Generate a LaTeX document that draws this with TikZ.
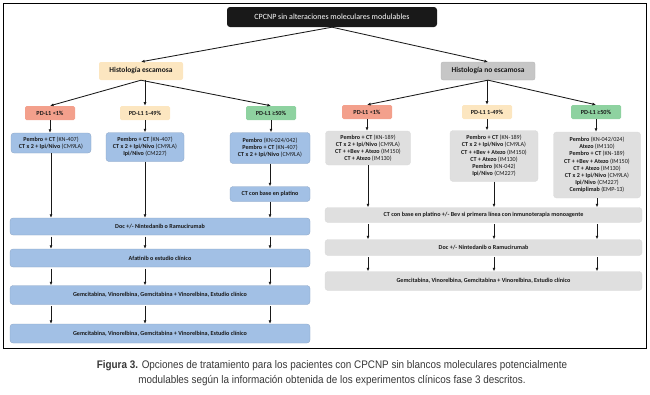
\documentclass[tikz,border=0pt]{standalone}
\usepackage{fontspec}
\setmainfont{Carlito}
\newfontfamily\capfont[FakeStretch=0.9]{Liberation Sans}
\usepackage{tikz}
\usetikzlibrary{arrows.meta}
\definecolor{boxblue}{RGB}{162,192,229}
\definecolor{boxgray}{RGB}{223,223,223}
\definecolor{histpeach}{RGB}{252,230,192}
\definecolor{histgray}{RGB}{198,198,198}
\definecolor{pdred}{RGB}{243,160,140}
\definecolor{pdgreen}{RGB}{142,210,160}
\definecolor{captxt}{RGB}{55,55,55}
\newcommand{\trial}[1]{{\mdseries(#1)}}

\begin{document}
\begin{tikzpicture}[x=1pt, y=-1pt,
    every node/.style={font=\bfseries\fontsize{6.1}{7.2}\selectfont, text=black!90, align=center, inner sep=1pt},
    topbox/.style={fill=black!90, text=white, rounded corners=3pt, minimum width=210pt, minimum height=20pt, font=\fontsize{8}{9}\selectfont},
    histbox/.style={rounded corners=2pt, minimum width=84pt, minimum height=18pt, font=\bfseries\fontsize{7.5}{9}\selectfont},
    pdbox/.style={rounded corners=1.5pt, minimum width=50pt, minimum height=14pt, font=\bfseries\fontsize{6.2}{7}\selectfont},
    bluebox/.style={fill=boxblue, draw=boxblue!85!black, line width=0.3pt, rounded corners=3pt},
    graybox/.style={fill=boxgray, draw=black!15, line width=0.3pt, rounded corners=3pt},
    link/.style={-{Latex[length=3.6pt,width=3pt]}, line width=0.85pt, black!90}]
  \useasboundingbox (0,0) rectangle (650,394);
  \draw[line width=0.9pt] (3,3) rectangle (646,348);

  % top level
  \node[topbox] (root) at (332,17) {CPCNP sin alteraciones moleculares modulables};
  \node[histbox, fill=histpeach] (esc) at (141,71) {Histología escamosa};
  \node[histbox, fill=histgray, draw=black!30, line width=0.3pt, minimum width=94pt] (noesc) at (488,71) {Histología no escamosa};

  % PD-L1 levels
  \node[pdbox, fill=pdred] (pdA) at (50,113) {PD-L1 <1\%};
  \node[pdbox, fill=histpeach] (pdB) at (145,113) {PD-L1 1-49\%};
  \node[pdbox, fill=pdgreen] (pdC) at (271,113) {PD-L1 ≥50\%};
  \node[pdbox, fill=pdred] (pdD) at (367,112) {PD-L1 <1\%};
  \node[pdbox, fill=histpeach] (pdE) at (487,112) {PD-L1 1-49\%};
  \node[pdbox, fill=pdgreen] (pdF) at (596,112) {PD-L1 ≥50\%};

  % escamosa
  \node[bluebox, minimum width=80pt, minimum height=20pt] (trA) at (51,143)
    {Pembro + CT \trial{KN-407}\\CT x 2 + Ipi/Nivo \trial{CM9LA}};
  \node[bluebox, minimum width=78pt, minimum height=29pt] (trB) at (145,147)
    {Pembro + CT \trial{KN-407}\\CT x 2 + Ipi/Nivo \trial{CM9LA}\\Ipi/Nivo \trial{CM227}};
  \node[bluebox, minimum width=80pt, minimum height=31pt] (trC) at (270,148)
    {Pembro \trial{KN-024/042}\\Pembro + CT \trial{KN-407}\\CT x 2 + Ipi/Nivo \trial{CM9LA}};
  \node[bluebox, minimum width=80pt, minimum height=15pt] (ptC) at (270,194) {CT con base en platino};
  \node[bluebox, minimum width=300pt, minimum height=17pt] (docL) at (160,226.5) {Doc +/- Nintedanib o Ramucirumab};
  \node[bluebox, minimum width=300pt, minimum height=18pt] (afaL) at (160,258) {Afatinib o estudio clínico};
  \node[bluebox, minimum width=300pt, minimum height=19pt] (gemL) at (160,295)
    {Gemcitabina, Vinorelbina, Gemcitabina + Vinorelbina, Estudio clínico};
  \node[bluebox, minimum width=300pt, minimum height=19pt] (gemLL) at (160,333.5)
    {Gemcitabina, Vinorelbina, Gemcitabina + Vinorelbina, Estudio clínico};

  % no escamosa
  \node[graybox, minimum width=85pt, minimum height=34pt] (grD) at (368,148)
    {Pembro + CT \trial{KN-189}\\CT x 2 + Ipi/Nivo \trial{CM9LA}\\CT + +Bev + Atezo \trial{IM150}\\CT + Atezo \trial{IM130}};
  \node[graybox, minimum width=88pt, minimum height=51pt] (grE) at (494,156)
    {Pembro + CT \trial{KN-189}\\CT x 2 + Ipi/Nivo \trial{CM9LA}\\CT + +Bev + Atezo \trial{IM150}\\CT + Atezo \trial{IM130}\\Pembro \trial{KN-042}\\Ipi/Nivo \trial{CM227}};
  \node[graybox, minimum width=87pt, minimum height=66pt] (grF) at (597,165)
    {Pembro \trial{KN-042/024}\\Atezo \trial{IM110}\\Pembro + CT \trial{KN-189}\\CT + +Bev + Atezo \trial{IM150}\\CT + Atezo \trial{IM130}\\CT x 2 + Ipi/Nivo \trial{CM9LA}\\Ipi/Nivo \trial{CM227}\\Cemiplimab \trial{EMP-13}};
  \node[graybox, minimum width=317pt, minimum height=15pt] (ctR) at (483.5,215)
    {CT con base en platino +/- Bev si primera línea con inmunoterapia monoagente};
  \node[graybox, minimum width=317pt, minimum height=16pt] (docR) at (483.5,247.5)
    {Doc +/- Nintedanib o Ramucirumab};
  \node[graybox, minimum width=317pt, minimum height=19pt] (gemR) at (483.5,281)
    {Gemcitabina, Vinorelbina, Gemcitabina + Vinorelbina, Estudio clínico};

  % connectors
  \draw[link] (root.south) -- (esc.north);
  \draw[link] (root.south) -- (noesc.north);
  \draw[link] (esc.south) -- (pdA.north);
  \draw[link] (esc.south -| pdB.north) -- (pdB.north);
  \draw[link] (esc.south) -- (pdC.north);
  \draw[link] (noesc.south) -- (pdD.north);
  \draw[link] (noesc.south -| pdE.north) -- (pdE.north);
  \draw[link] (noesc.south) -- (pdF.north);
  \foreach \p/\t in {pdA/trA, pdB/trB, pdC/trC, pdD/grD, pdE/grE, pdF/grF}
    \draw[link] (\p.south) -- (\p.south |- \t.north);
  \draw[link] (trC.south) -- (ptC.north);
  \foreach \t in {trA, trB, ptC}
    \draw[link] (\t.south) -- (\t.south |- docL.north);
  \foreach \u/\v in {docL/afaL, afaL/gemL, gemL/gemLL}
    \foreach \t in {trA, trB, ptC}
      \draw[link] (\t.south |- \u.south) ++(0,1.5) -- (\t.south |- \v.north);
  \foreach \t in {grD, grE, grF}
    \draw[link] (\t.south) -- (\t.south |- ctR.north);
  \foreach \u/\v in {ctR/docR, docR/gemR}
    \foreach \t in {grD, grE, grF}
      \draw[link] (\t.south |- \u.south) ++(0,1.5) -- (\t.south |- \v.north);

  \node[font=\capfont\fontsize{11}{15}\selectfont, text=captxt] (caption) at (332,373.5)
    {\textbf{Figura 3.} Opciones de tratamiento para los pacientes con CPCNP sin blancos moleculares potencialmente\\
     modulables según la información obtenida de los experimentos clínicos fase 3 descritos.};
\end{tikzpicture}
\end{document}
